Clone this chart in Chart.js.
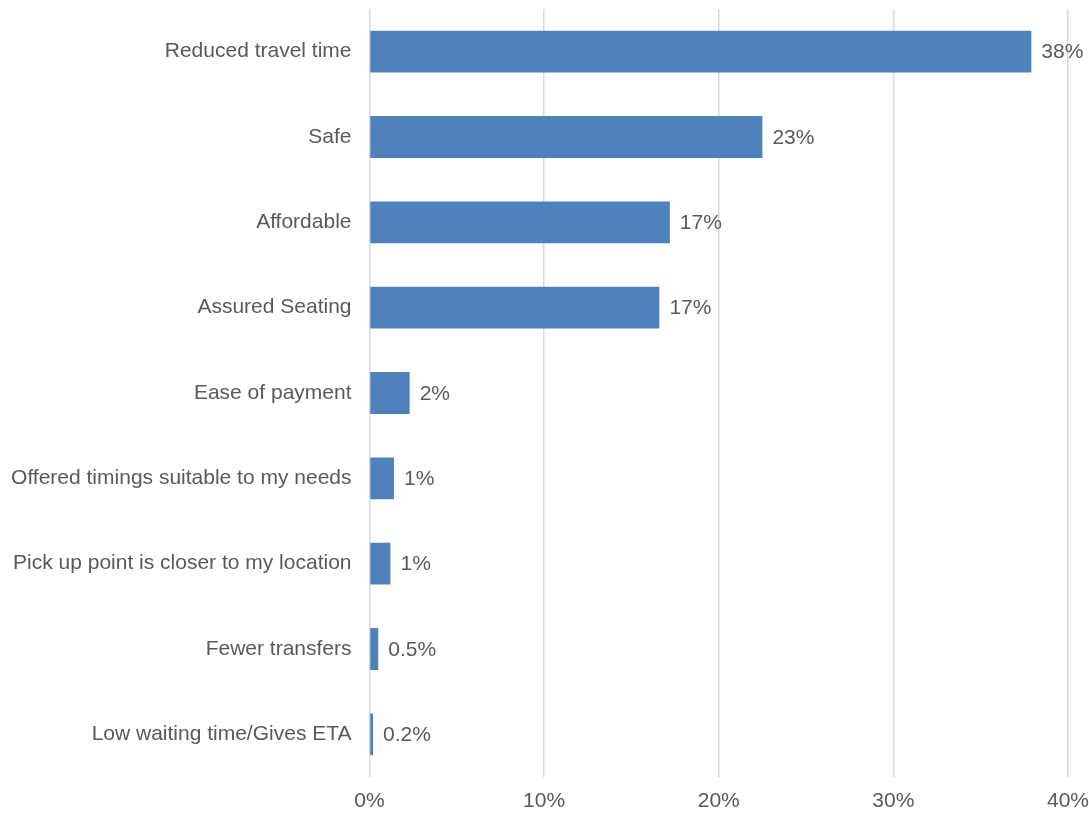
<!DOCTYPE html>
<html>
<head>
<meta charset="utf-8">
<script src="https://cdn.jsdelivr.net/npm/chart.js@4"></script>
<style>
  html, body { margin: 0; padding: 0; background: #fff; }
  #wrap { width: 1089px; height: 813px; position: relative; }
</style>
</head>
<body>
<div id="wrap"><canvas id="reasons"></canvas></div>
<script>
const categories = [
    "Reduced travel time",
    "Safe",
    "Affordable",
    "Assured Seating",
    "Ease of payment",
    "Offered timings suitable to my needs",
    "Pick up point is closer to my location",
    "Fewer transfers",
    "Low waiting time/Gives ETA"
];
const shares = [37.9, 22.5, 17.2, 16.6, 2.3, 1.4, 1.2, 0.5, 0.2];
const xTicks = [0, 10, 20, 30, 40];

const textColor = "#595959";
const fontFamily = "'Liberation Sans', Arial, sans-serif";
const fontSize = 21;

function formatShare(v) {
    return (v < 1 ? v.toFixed(1) : Math.round(v)) + "%";
}

// value labels just past the end of each bar
const barLabels = {
    id: "barLabels",
    afterDatasetsDraw(chart) {
        const ctx = chart.ctx;
        const meta = chart.getDatasetMeta(0);
        ctx.save();
        ctx.font = fontSize + "px " + fontFamily;
        ctx.fillStyle = textColor;
        ctx.textAlign = "left";
        ctx.textBaseline = "middle";
        meta.data.forEach((bar, i) => {
            ctx.fillText(formatShare(shares[i]), bar.x + 10, bar.y + 1);
        });
        ctx.restore();
    }
};

new Chart(document.getElementById("reasons").getContext("2d"), {
    type: "bar",
    data: {
        labels: categories,
        datasets: [{
            data: shares,
            backgroundColor: "#4f81bd",
            borderWidth: 0,
            barPercentage: 0.49,
            categoryPercentage: 1
        }]
    },
    options: {
        indexAxis: "y",
        responsive: true,
        maintainAspectRatio: false,
        animation: false,
        layout: { padding: { top: 9, right: 21, left: 0, bottom: 0 } },
        plugins: {
            legend: { display: false },
            tooltip: { enabled: false }
        },
        scales: {
            x: {
                min: xTicks[0],
                max: xTicks[xTicks.length - 1],
                afterBuildTicks: (scale) => {
                    scale.ticks = xTicks.map(v => ({ value: v }));
                },
                afterFit: (scale) => {
                    scale.height = 36;
                    scale.paddingLeft = 0;
                    scale.paddingRight = 0;
                },
                grid: { color: "#d9d9d9", lineWidth: 1.5, drawTicks: false },
                border: { display: false },
                ticks: {
                    padding: 12,
                    color: textColor,
                    font: { family: fontFamily, size: fontSize },
                    callback: (v) => v + "%"
                }
            },
            y: {
                afterFit: (scale) => {
                    scale.width = 369.5;
                    scale.paddingTop = 0;
                    scale.paddingBottom = 0;
                },
                grid: { display: false, drawTicks: false },
                border: { display: false },
                ticks: {
                    padding: 18,
                    color: textColor,
                    font: { family: fontFamily, size: fontSize }
                }
            }
        }
    },
    plugins: [barLabels]
});
</script>
</body>
</html>
